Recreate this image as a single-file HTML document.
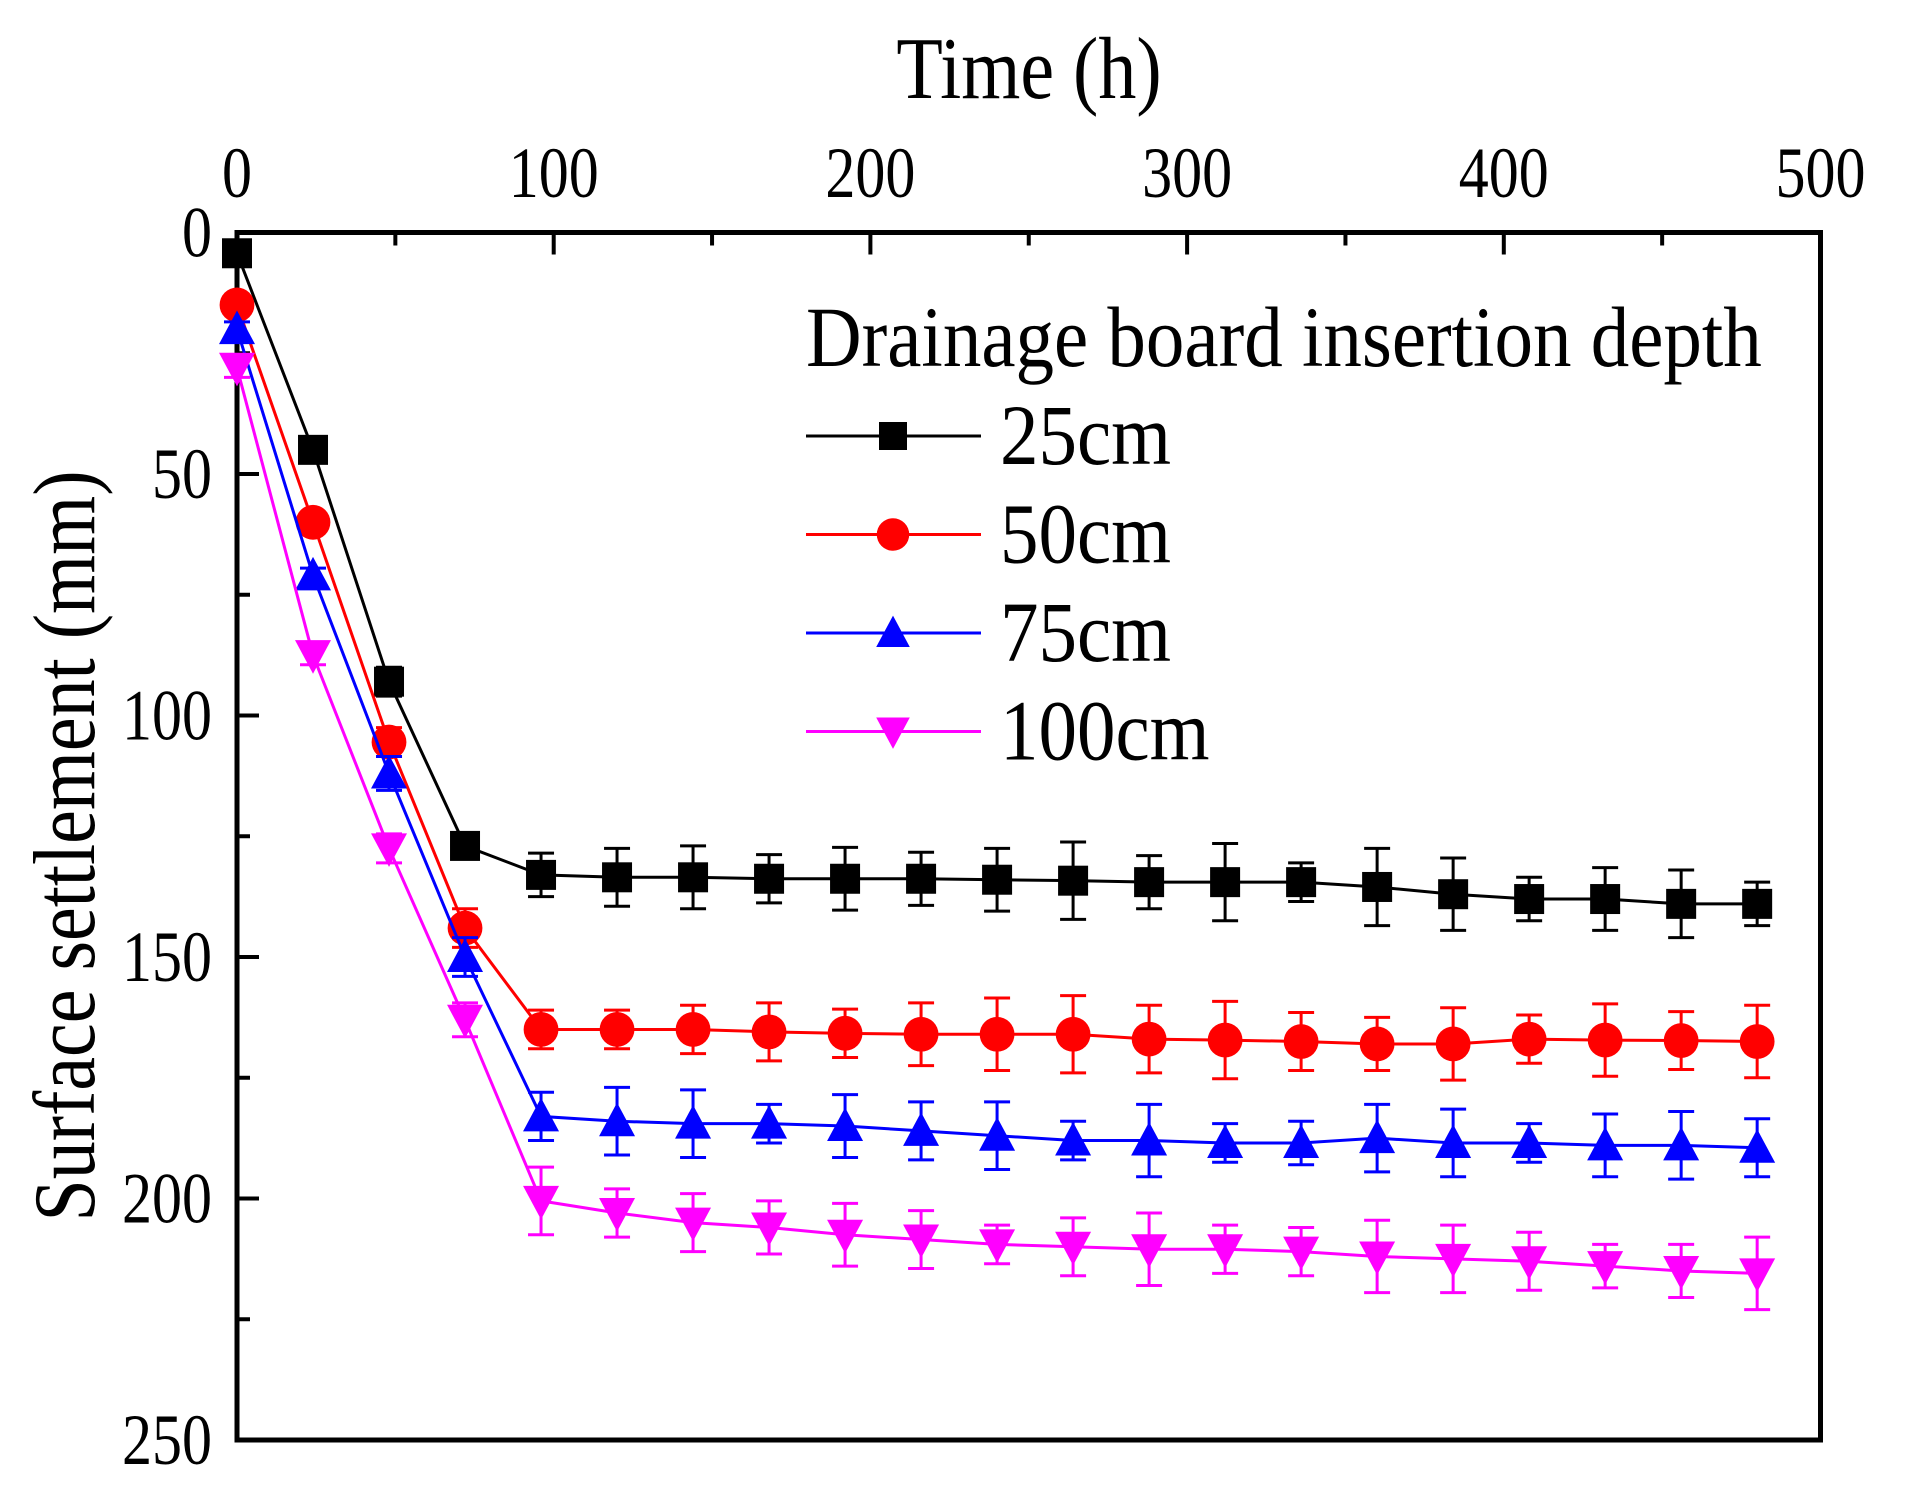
<!DOCTYPE html>
<html><head><meta charset="utf-8"><style>
html,body{margin:0;padding:0;background:#fff;}
svg{display:block;font-family:"Liberation Serif",serif;}
</style></head><body>
<svg id="chart" width="1920" height="1495" viewBox="0 0 1920 1495" xmlns="http://www.w3.org/2000/svg">
<text transform="translate(1029,98) scale(1,1.15)" font-size="76" text-anchor="middle">Time (h)</text>
<text transform="translate(94,846) rotate(-90) scale(1,1.15)" font-size="76" text-anchor="middle">Surface settlement (mm)</text>
<g id="axes"></g>
<g id="series"></g>
<g id="legend"></g>
</svg>
<script>
const hours = [0,24,48,72,96,120,144,168,192,216,240,264,288,312,336,360,384,408,432,456,480];
const s25 = [4.3,45,93,127,133,133.5,133.5,133.8,133.8,133.8,134,134.2,134.5,134.5,134.5,135.5,137,138,138,139,139];
const s50 = [15,60,105.5,144,165,165,165,165.5,165.8,166,166,166,167,167.2,167.5,168,168,167,167.2,167.3,167.5];
const s75 = [20,71,112,150,183,184,184.5,184.5,185,186,187,188,188,188.5,188.5,187.5,188.5,188.5,189,189,189.5];
const s100 = [28,87.5,127.5,163,200.5,203,205,206,207.5,208.5,209.5,210,210.5,210.5,211,212,212.5,213,214,215,215.5];
const e25 = [2,1.5,3,2.5,4.5,6,6.5,5,6.5,5.5,6.5,8,5.5,8,4,8,7.5,4.5,6.5,7,4.5];
const e50 = [1.5,1.5,3,4,4,4,5,6,5,6.5,7.5,8,7,8,6,5.5,7.5,5,7.5,6,7.5];
const e75 = [1.5,1.5,3.5,4,5,7,7,4,6.5,6,7,4,7.5,4,4.5,7,7,4,6.5,7,6];
const e100 = [2,2,3,3.5,7,5,6,5.5,6.5,6,4,6,7.5,5,5,7.5,7,6,4.5,5.5,7.5];
const seriesNames = ["25cm","50cm","75cm","100cm"];
const xTicks = [0,100,200,300,400,500];
const yTicks = [0,50,100,150,200,250];
const legendTitle = "Drainage board insertion depth";

const L=237,R=1820.5,T=232.5,B=1440;
const X=v=>L+(v-0)/(500)*(R-L);
const Y=v=>T+(v-0)/(250)*(B-T);
const NS="http://www.w3.org/2000/svg";
function mk(tag,attrs,parent){const e=document.createElementNS(NS,tag);for(const k in attrs)e.setAttribute(k,attrs[k]);parent.appendChild(e);return e;}
const axes=document.getElementById('axes');
for(let v=0;v<=500;v+=50){const major=v%100===0;const t=mk('line',{x1:X(v),x2:X(v),y1:T,y2:T+(major?22:13),stroke:'#000','stroke-width':4},axes);

}
for(let v=0;v<=250;v+=25){const major=v%50===0;const t=mk('line',{x1:L,x2:L+(major?22:13),y1:Y(v),y2:Y(v),stroke:'#000','stroke-width':4},axes);

}
xTicks.forEach(v=>{const t=mk('text',{transform:`translate(${X(v)},197) scale(1,1.2)`,'font-size':60,'text-anchor':'middle'},axes);t.textContent=v;

});
yTicks.forEach(v=>{const t=mk('text',{transform:`translate(212,${Y(v)+24}) scale(1,1.2)`,'font-size':60,'text-anchor':'end'},axes);t.textContent=v;

});
const frame=mk('rect',{x:L,y:T,width:R-L,height:B-T,fill:'none',stroke:'#000','stroke-width':5},axes);



function marker(g,type,cx,cy,color,s){
  if(type==='sq') return mk('rect',{x:cx-s/2,y:cy-s/2,width:s,height:s,fill:color},g);
  if(type==='ci') return mk('circle',{cx:cx,cy:cy,r:s*0.58,fill:color},g);
  if(type==='up') return mk('polygon',{points:`${cx},${cy-s*0.62} ${cx-s*0.6},${cy+s*0.5} ${cx+s*0.6},${cy+s*0.5}`,fill:color},g);
  return mk('polygon',{points:`${cx},${cy+s*0.62} ${cx-s*0.6},${cy-s*0.5} ${cx+s*0.6},${cy-s*0.5}`,fill:color},g);
}
const sdefs=[[s25,e25,'#000','sq'],[s50,e50,'#ff0000','ci'],[s75,e75,'#0000ff','up'],[s100,e100,'#ff00ff','dn']];
const sg=document.getElementById('series');
sdefs.forEach((d,i)=>{
  const g=mk('g',{},sg);
  
  
  const [vals,errs,col,type]=d;
  hours.forEach((h,j)=>{
    const x=X(h),y1=Y(vals[j]-errs[j]),y2=Y(vals[j]+errs[j]);
    const eb=mk('path',{d:`M${x},${y1}V${y2}M${x-13},${y1}H${x+13}M${x-13},${y2}H${x+13}`,stroke:col,'stroke-width':3,fill:'none'},g);
    
    
  });
  const ln=mk('polyline',{points:hours.map((h,j)=>X(h)+','+Y(vals[j])).join(' '),fill:'none',stroke:col,'stroke-width':3},g);
  
  
  hours.forEach((h,j)=>{
    const m=marker(g,type,X(h),Y(vals[j]),col,30);
    
    
  });
});
const lg=document.getElementById('legend');
const lt=mk('text',{transform:'translate(806,366) scale(1,1.12)','font-size':77},lg);lt.textContent=legendTitle;


sdefs.forEach((d,i)=>{
  const y=436+i*98.5;
  const g=mk('g',{},lg);
  
  
  mk('line',{x1:806,x2:981,y1:y,y2:y,stroke:d[2],'stroke-width':3},g);
  marker(g,d[3],893,y,d[2],28);
  const t=mk('text',{transform:`translate(1000,${y+28}) scale(1,1.12)`,'font-size':77},g);t.textContent=seriesNames[i];
});
</script>
</body></html>
